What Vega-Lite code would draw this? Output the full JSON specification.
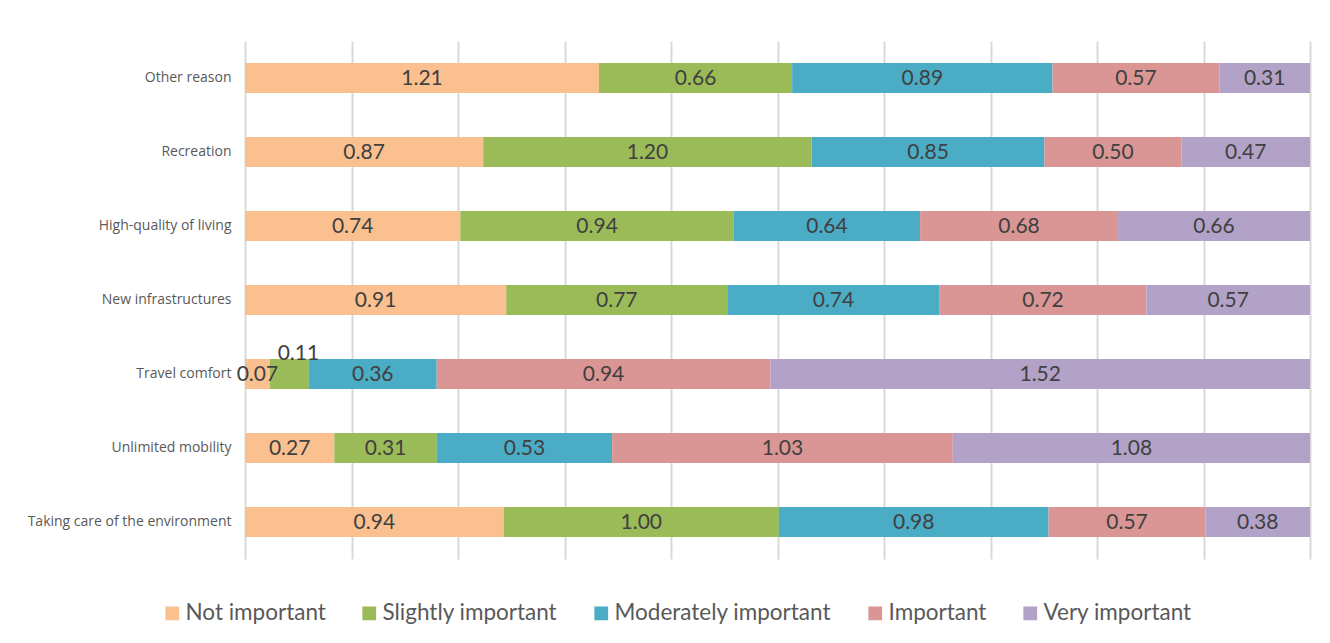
{
  "$schema": "https://vega.github.io/schema/vega-lite/v6.json",
  "width": 1065,
  "height": 518,
  "autosize": "none",
  "padding": {"left": 245, "top": 41, "right": 20, "bottom": 84},
  "background": "white",
  "config": {"view": {"stroke": null}, "font": "Lato"},
  "data": {"values": [
    {"reason": "Other reason", "level": "Not important", "rank": 1, "value": 1.21},
    {"reason": "Other reason", "level": "Slightly important", "rank": 2, "value": 0.66},
    {"reason": "Other reason", "level": "Moderately important", "rank": 3, "value": 0.89},
    {"reason": "Other reason", "level": "Important", "rank": 4, "value": 0.57},
    {"reason": "Other reason", "level": "Very important", "rank": 5, "value": 0.31},
    {"reason": "Recreation", "level": "Not important", "rank": 1, "value": 0.87},
    {"reason": "Recreation", "level": "Slightly important", "rank": 2, "value": 1.20},
    {"reason": "Recreation", "level": "Moderately important", "rank": 3, "value": 0.85},
    {"reason": "Recreation", "level": "Important", "rank": 4, "value": 0.50},
    {"reason": "Recreation", "level": "Very important", "rank": 5, "value": 0.47},
    {"reason": "High-quality of living", "level": "Not important", "rank": 1, "value": 0.74},
    {"reason": "High-quality of living", "level": "Slightly important", "rank": 2, "value": 0.94},
    {"reason": "High-quality of living", "level": "Moderately important", "rank": 3, "value": 0.64},
    {"reason": "High-quality of living", "level": "Important", "rank": 4, "value": 0.68},
    {"reason": "High-quality of living", "level": "Very important", "rank": 5, "value": 0.66},
    {"reason": "New infrastructures", "level": "Not important", "rank": 1, "value": 0.91},
    {"reason": "New infrastructures", "level": "Slightly important", "rank": 2, "value": 0.77},
    {"reason": "New infrastructures", "level": "Moderately important", "rank": 3, "value": 0.74},
    {"reason": "New infrastructures", "level": "Important", "rank": 4, "value": 0.72},
    {"reason": "New infrastructures", "level": "Very important", "rank": 5, "value": 0.57},
    {"reason": "Travel comfort", "level": "Not important", "rank": 1, "value": 0.07},
    {"reason": "Travel comfort", "level": "Slightly important", "rank": 2, "value": 0.11},
    {"reason": "Travel comfort", "level": "Moderately important", "rank": 3, "value": 0.36},
    {"reason": "Travel comfort", "level": "Important", "rank": 4, "value": 0.94},
    {"reason": "Travel comfort", "level": "Very important", "rank": 5, "value": 1.52},
    {"reason": "Unlimited mobility", "level": "Not important", "rank": 1, "value": 0.27},
    {"reason": "Unlimited mobility", "level": "Slightly important", "rank": 2, "value": 0.31},
    {"reason": "Unlimited mobility", "level": "Moderately important", "rank": 3, "value": 0.53},
    {"reason": "Unlimited mobility", "level": "Important", "rank": 4, "value": 1.03},
    {"reason": "Unlimited mobility", "level": "Very important", "rank": 5, "value": 1.08},
    {"reason": "Taking care of the environment", "level": "Not important", "rank": 1, "value": 0.94},
    {"reason": "Taking care of the environment", "level": "Slightly important", "rank": 2, "value": 1.00},
    {"reason": "Taking care of the environment", "level": "Moderately important", "rank": 3, "value": 0.98},
    {"reason": "Taking care of the environment", "level": "Important", "rank": 4, "value": 0.57},
    {"reason": "Taking care of the environment", "level": "Very important", "rank": 5, "value": 0.38}
  ]},
  "transform": [
    {"stack": "value", "groupby": ["reason"], "sort": [{"field": "rank", "order": "ascending"}], "offset": "normalize", "as": ["x0", "x1"]},
    {"calculate": "(datum.x0 + datum.x1) / 2", "as": "xmid"}
  ],
  "encoding": {
    "y": {
      "field": "reason", "type": "nominal",
      "sort": ["Other reason", "Recreation", "High-quality of living", "New infrastructures", "Travel comfort", "Unlimited mobility", "Taking care of the environment"],
      "scale": {"paddingInner": 0.595, "paddingOuter": 0.2975},
      "axis": {"title": null, "ticks": false, "domain": false, "labelFontSize": 14, "labelColor": "#595959", "labelPadding": 14, "labelFont": "Open Sans", "labelLimit": 0}
    }
  },
  "layer": [
    {
      "mark": {"type": "bar"},
      "encoding": {
        "x": {"field": "x0", "type": "quantitative", "scale": {"domain": [0, 1], "nice": false},
          "axis": {"title": null, "labels": false, "ticks": false, "domain": false, "grid": true, "gridColor": "#d9d9d9", "gridWidth": 2, "values": [0, 0.1, 0.2, 0.3, 0.4, 0.5, 0.6, 0.7, 0.8, 0.9, 1.0]}},
        "x2": {"field": "x1"},
        "color": {
          "field": "level", "type": "nominal",
          "scale": {"domain": ["Not important", "Slightly important", "Moderately important", "Important", "Very important"],
                    "range": ["#FAC090", "#9BBB59", "#4BACC6", "#D99694", "#B3A2C7"]},
          "legend": {"title": null, "orient": "none", "direction": "horizontal", "legendX": -84, "legendY": 561,
                     "symbolType": "square", "symbolSize": 190, "symbolStrokeWidth": 0, "symbolOpacity": 1,
                     "labelFontSize": 22.5, "labelColor": "#595959", "labelFont": "Lato", "labelLimit": 0, "columnPadding": 32, "labelOffset": 2}
        }
      }
    },
    {
      "transform": [{"filter": "!(datum.reason == 'Travel comfort' && datum.rank == 2)"}],
      "mark": {"type": "text", "fontSize": 21, "color": "#404040", "baseline": "middle", "align": "center", "dy": 1},
      "encoding": {
        "x": {"field": "xmid", "type": "quantitative"},
        "text": {"field": "value", "type": "quantitative", "format": ".2f"}
      }
    },
    {
      "transform": [{"filter": "datum.reason == 'Travel comfort' && datum.rank == 2"}],
      "mark": {"type": "text", "fontSize": 21, "color": "#404040", "baseline": "middle", "align": "center", "dy": -20, "dx": 9},
      "encoding": {
        "x": {"field": "xmid", "type": "quantitative"},
        "text": {"field": "value", "type": "quantitative", "format": ".2f"}
      }
    }
  ]
}
